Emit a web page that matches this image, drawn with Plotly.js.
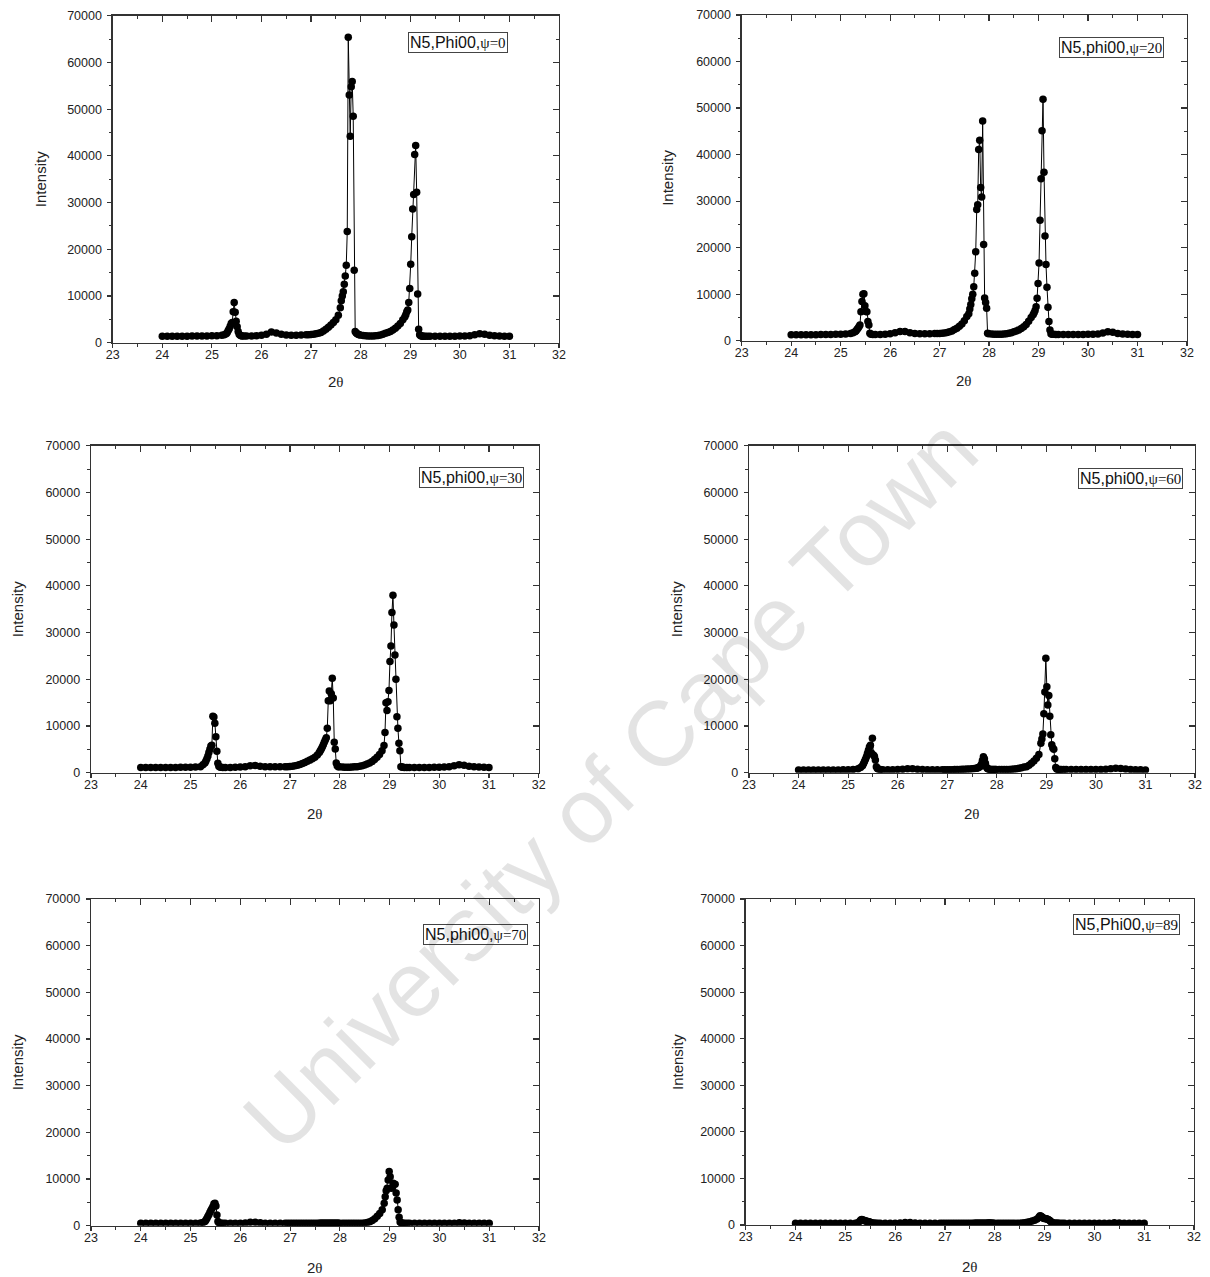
<!DOCTYPE html>
<html><head><meta charset="utf-8">
<script src="https://cdn.plot.ly/plotly-3.0.1.min.js"></script>
<style>html,body{margin:0;padding:0;background:#fff}#chart{width:1210px;height:1277px}</style>
</head><body><div id="chart"></div>
<script>
// 2θ grid of the scans (degrees)
const twoTheta = [
  24.0,24.1,24.2,24.3,24.4,24.5,24.6,24.7,24.8,24.9,25.0,25.1,25.2,25.25,
  25.29,25.31,25.33,25.35,25.37,25.39,25.41,25.43,25.45,25.47,25.49,25.51,25.53,25.55,25.57,25.59,25.61,
  25.65,25.7,25.8,25.9,26.0,26.1,26.2,26.3,26.4,26.5,26.6,26.7,26.8,26.9,
  26.95,27.0,27.05,27.1,27.15,27.2,27.25,27.3,27.35,27.4,27.45,27.5,27.55,
  27.59,27.61,27.63,27.65,27.67,27.69,27.71,27.73,27.75,27.77,27.79,27.81,27.83,27.85,27.87,27.89,27.91,27.93,27.95,27.97,27.99,
  28.05,28.1,28.15,28.2,28.25,28.3,28.35,28.4,28.45,28.5,28.55,28.6,28.65,28.7,28.75,28.8,28.85,
  28.89,28.91,28.93,28.95,28.97,28.99,29.01,29.03,29.05,29.07,29.09,29.11,29.13,29.15,29.17,29.19,29.21,29.23,29.25,29.27,
  29.3,29.35,29.4,29.5,29.6,29.7,29.8,29.9,30.0,30.1,30.2,30.3,30.4,30.5,30.6,30.7,30.8,30.9,31.0
];

const intensityPsi0 = [
  1400,1400,1400,1400,1400,1400,1450,1450,1450,1450,1500,1500,1600,1700,
  1900,2200,2600,3000,3500,4100,4300,6600,8600,6500,4600,3400,2400,1800,1600,1500,1450,
  1450,1450,1450,1500,1600,1800,2300,2100,1800,1650,1600,1600,1650,1700,
  1700,1750,1800,1900,2000,2200,2500,2900,3300,3800,4300,4900,5900,
  7500,9000,10000,10900,12500,14300,16600,23800,65400,53000,44200,54800,55900,48500,15500,2400,2100,1900,1800,1700,1650,
  1550,1500,1450,1450,1450,1500,1550,1650,1800,2000,2200,2400,2700,3100,3600,4100,4900,
  5500,6000,6600,7000,8600,11600,16800,22700,28600,31700,40300,42200,32200,10400,2900,1700,1500,1450,1400,1400,
  1400,1400,1400,1400,1400,1400,1400,1400,1450,1450,1500,1700,1900,1800,1600,1500,1450,1400,1400
];
const intensityPsi20 = [
  1300,1300,1300,1300,1300,1300,1350,1350,1350,1400,1400,1450,1550,1700,
  1900,2100,2400,2700,3000,3400,6200,8400,10000,10100,7500,6300,6200,4100,3400,1600,1400,
  1350,1350,1350,1400,1500,1700,2000,2000,1700,1550,1500,1500,1500,1550,
  1550,1550,1600,1650,1750,1900,2100,2400,2700,3100,3600,4300,5200,
  5800,6800,7800,9000,10000,11600,14500,19100,28200,29200,41100,43100,32900,30900,47200,20700,9200,8200,7000,1600,1500,
  1450,1400,1400,1400,1400,1450,1500,1600,1700,1900,2100,2300,2600,3000,3500,4200,5000,
  5600,6000,6500,7300,9100,12300,16700,25900,34800,45100,51900,36200,22500,16400,11500,7200,4100,2300,1500,1400,
  1400,1350,1350,1350,1350,1350,1350,1350,1400,1400,1450,1650,1900,1800,1550,1450,1400,1350,1350
];
const intensityPsi30 = [
  1100,1100,1100,1100,1100,1100,1100,1100,1150,1150,1150,1200,1300,1700,
  2100,2500,3000,3600,4300,5000,5700,5900,12100,11900,10600,7700,4600,2000,1400,1200,1150,
  1100,1100,1100,1150,1200,1300,1500,1550,1400,1300,1250,1250,1250,1300,
  1300,1350,1400,1500,1600,1750,1950,2200,2450,2700,3000,3300,3800,
  4300,4700,5100,5500,6000,6500,7000,7500,9500,15400,17500,15400,16900,20200,16000,6500,5100,2100,1500,1300,1250,
  1200,1150,1150,1150,1200,1250,1300,1400,1500,1650,1850,2100,2400,2800,3300,3900,4700,
  5800,8600,15000,13300,15200,17600,23800,27100,34300,38000,31600,25200,20000,12000,9500,6300,4700,1300,1200,1150,
  1100,1100,1100,1100,1100,1100,1100,1150,1150,1200,1300,1500,1700,1600,1400,1250,1200,1150,1100
];
const intensityPsi60 = [
  600,600,600,600,600,600,600,600,600,650,650,700,850,1100,
  1500,1900,2400,2900,3400,4100,4800,5500,5900,4200,7400,3800,3500,2700,1300,900,800,
  700,650,650,650,700,750,850,850,750,700,650,650,650,650,
  650,650,650,650,700,700,700,750,750,800,800,850,900,
  950,1000,1100,1200,1400,1800,2600,3400,3000,2000,1200,900,800,750,700,700,700,700,700,700,700,
  700,700,700,700,700,750,800,850,950,1050,1200,1300,1600,2000,2500,3100,3900,
  6300,7200,8300,12600,17300,24500,18400,14500,16500,12100,8100,6000,5300,5000,3000,1100,800,700,700,700,
  700,700,700,700,700,700,700,700,700,700,750,850,950,900,800,700,650,650,600
];
const intensityPsi70 = [
  500,500,500,500,500,500,500,500,500,500,500,550,600,700,
  900,1200,1600,2000,2400,2900,3300,3700,4100,4700,4800,4200,2300,900,600,550,500,
  500,500,500,500,550,600,750,750,650,550,500,500,500,500,
  500,500,500,500,500,500,500,500,500,500,500,500,550,
  550,550,550,550,550,550,550,550,550,550,550,500,500,500,500,500,500,500,500,500,500,
  500,500,500,500,500,500,500,500,550,600,700,850,1100,1500,2000,2600,3400,
  4800,6200,7500,8000,9800,11600,10500,8000,8200,9100,8900,8900,7000,5500,3400,1800,800,600,550,500,
  500,500,500,500,500,500,500,500,500,500,500,550,650,600,550,500,500,500,500
];
const intensityPsi89 = [
  350,350,350,350,350,350,350,350,350,350,350,350,400,500,
  800,1100,1200,1100,1000,900,850,800,750,700,650,550,450,400,400,350,350,
  350,350,350,350,400,450,550,550,450,400,350,350,350,350,
  350,350,350,350,350,350,350,350,350,350,350,350,350,
  350,350,350,350,350,350,350,350,350,350,350,350,350,400,450,450,450,400,350,350,350,
  350,350,350,350,350,350,350,350,400,400,450,500,600,700,850,1000,1300,
  1700,2000,1900,1700,1500,1400,1400,1350,1300,1200,1100,900,700,550,450,400,350,350,350,350,
  350,350,350,350,350,350,350,350,350,350,350,400,500,450,400,350,350,350,350
];

const panelSeries = [intensityPsi0, intensityPsi20, intensityPsi30, intensityPsi60, intensityPsi70, intensityPsi89];
const panelPrefix = ['N5,Phi00,', 'N5,phi00,', 'N5,phi00,', 'N5,phi00,', 'N5,phi00,', 'N5,Phi00,'];
const panelPsi = ['ψ=0', 'ψ=20', 'ψ=30', 'ψ=60', 'ψ=70', 'ψ=89'];
const xTitle = '2θ';
const yTitle = 'Intensity';
const watermarkText = 'University of Cape Town';

const W = 1210, H = 1277;
// plot areas in pixels: [left, right, top, bottom]
const boxes = [
  [112.7, 559, 15.7, 342.7],
  [741.7, 1187, 15, 340.7],
  [91, 538.7, 445.7, 772.7],
  [749, 1195, 445.7, 772.7],
  [91, 539, 899, 1225.7],
  [745.7, 1194, 899, 1225]
];
const yTitleX = [40, 668, 17, 676, 17, 677];
const xTitleY = [382, 381, 813, 813, 1267, 1266];
const legendBox = [[508, 32], [1164, 37], [524, 467], [1183, 468], [528, 924], [1180, 914]];

const FONT = 'Liberation Sans, Arial, sans-serif';
const SERIF = 'Liberation Serif, Times New Roman, serif';
const AX = '#333';
const px = v => v / W, py = v => 1 - v / H;

const data = [];
const layout = {
  width: W, height: H,
  margin: {l: 0, r: 0, t: 0, b: 0},
  paper_bgcolor: '#fff', plot_bgcolor: '#fff',
  showlegend: false,
  font: {family: FONT, color: '#222', size: 12},
  annotations: []
};

panelSeries.forEach((ys, i) => {
  const n = i + 1, m = i + 7;
  const b = boxes[i];
  data.push({
    type: 'scatter', mode: 'lines+markers',
    x: twoTheta, y: ys,
    xaxis: 'x' + n, yaxis: 'y' + n,
    line: {color: '#000', width: 1},
    marker: {color: '#000', size: 7.5},
    hoverinfo: 'x+y'
  });
  data.push({type: 'scatter', mode: 'markers', x: [null], y: [null],
    xaxis: 'x' + m, yaxis: 'y' + m, hoverinfo: 'skip', showlegend: false});

  const common = {
    showgrid: false, zeroline: false, showline: true, mirror: true,
    linecolor: AX, linewidth: 1.3, ticks: 'outside', ticklen: 4, tickwidth: 1.2,
    tickcolor: AX, tickfont: {family: FONT, size: 12.5, color: '#222'}, fixedrange: true
  };
  layout['xaxis' + n] = Object.assign({}, common, {
    domain: [px(b[0]), px(b[1])], anchor: 'y' + n,
    range: [23, 32], dtick: 1, tick0: 23, ticklabelstandoff: -4,
    minor: {ticks: 'outside', ticklen: 2.5, dtick: 0.5, tickcolor: AX, tickwidth: 1}
  });
  layout['yaxis' + n] = Object.assign({}, common, {
    domain: [py(b[3]), py(b[2])], anchor: 'x' + n,
    range: [0, 70000], dtick: 10000, tick0: 0, tickformat: 'd', ticklabelstandoff: 3,
    minor: {ticks: 'outside', ticklen: 2.5, dtick: 5000, tickcolor: AX, tickwidth: 1}
  });
  const inner = {
    showgrid: false, zeroline: false, showline: false, showticklabels: false,
    ticks: 'inside', ticklen: 6, tickwidth: 1.2, tickcolor: AX, fixedrange: true
  };
  layout['xaxis' + m] = Object.assign({}, inner, {
    overlaying: 'x' + n, anchor: 'y' + n, side: 'top',
    range: [23, 32], dtick: 1, tick0: 23,
    minor: {ticks: 'inside', ticklen: 3, dtick: 0.5, tickcolor: AX, tickwidth: 1}
  });
  layout['yaxis' + m] = Object.assign({}, inner, {
    overlaying: 'y' + n, anchor: 'x' + n, side: 'right',
    range: [0, 70000], dtick: 10000, tick0: 0,
    minor: {ticks: 'inside', ticklen: 3, dtick: 5000, tickcolor: AX, tickwidth: 1}
  });

  // axis titles
  layout.annotations.push({
    xref: 'paper', yref: 'paper', x: px(yTitleX[i]), y: py((b[2] + b[3]) / 2),
    text: yTitle, textangle: -90, showarrow: false,
    xanchor: 'center', yanchor: 'middle', font: {family: FONT, size: 15, color: '#222'}
  });
  layout.annotations.push({
    xref: 'paper', yref: 'paper', x: px((b[0] + b[1]) / 2), y: py(xTitleY[i]),
    text: '2<span style="font-family:' + SERIF + '">' + xTitle.slice(1) + '</span>',
    showarrow: false, xanchor: 'center', yanchor: 'middle',
    font: {family: FONT, size: 15, color: '#222'}
  });
  // legend box
  layout.annotations.push({
    xref: 'paper', yref: 'paper', x: px(legendBox[i][0]), y: py(legendBox[i][1]),
    xanchor: 'right', yanchor: 'top',
    text: panelPrefix[i] + '<span style="font-family:' + SERIF + ';font-size:15px">' + panelPsi[i] + '</span>',
    showarrow: false, font: {family: FONT, size: 16, color: '#111'},
    bordercolor: '#444', borderwidth: 1, borderpad: 1, bgcolor: '#fff'
  });
});

// watermark
layout.annotations.push({
  xref: 'paper', yref: 'paper', x: px(610), y: py(784),
  text: watermarkText, textangle: -45, showarrow: false,
  xanchor: 'center', yanchor: 'middle',
  font: {family: FONT, size: 92, color: 'rgba(0,0,0,0.11)'}
});

Plotly.newPlot('chart', data, layout, {displayModeBar: false, staticPlot: true});
</script>
</body></html>
